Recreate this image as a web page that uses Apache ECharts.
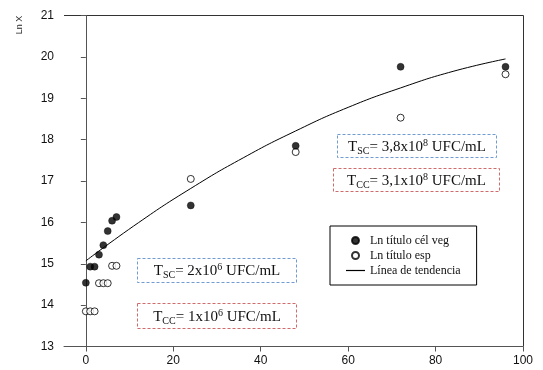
<!DOCTYPE html>
<html>
<head>
<meta charset="utf-8">
<script src="https://cdn.jsdelivr.net/npm/echarts@6/dist/echarts.min.js"></script>
<style>
  html, body { margin: 0; padding: 0; background: #fff; }
  #chart { width: 543px; height: 370px; }
</style>
</head>
<body>
<div id="chart"></div>
<script>
// Time (x) and log counts (Ln X)
const vegHours = [0, 1, 2, 3, 4, 5, 6, 7, 24, 48, 72, 96];
const vegLnX   = [14.54, 14.93, 14.93, 15.22, 15.45, 15.79, 16.04, 16.13, 16.41, 17.85, 19.76, 19.76];

const espHours = [0, 1, 2, 3, 4, 5, 6, 7, 24, 48, 72, 96];
const espLnX   = [13.85, 13.85, 13.85, 14.53, 14.53, 14.53, 14.95, 14.95, 17.05, 17.70, 18.53, 19.58];

const trendHours = [0, 12, 24, 36, 48, 60, 72, 84, 96];
const trendLnX   = [15.07, 15.99, 16.82, 17.56, 18.21, 18.78, 19.25, 19.65, 19.95];

const xTicks = [0, 20, 40, 60, 80, 100];

const names = ['Ln título cél veg', 'Ln título esp', 'Línea de tendencia'];

const zip = (xs, ys) => xs.map((x, i) => [x, ys[i]]);

const chart = echarts.init(document.getElementById('chart'), null, { renderer: 'canvas' });

const serif = 'Liberation Serif';
const sans = 'Liberation Sans';

// dashed annotation box with rich text (subscript / superscript)
function noteBox(x, y, w, h, color, sub, mant, exp) {
  return {
    type: 'group',
    left: x, top: y,
    children: [
      {
        type: 'rect',
        shape: { x: 0, y: 0, width: w, height: h },
        style: { fill: '#fff', stroke: color, lineWidth: 1, lineDash: [3, 2] }
      },
      {
        type: 'text',
        x: w / 2, y: h / 2 + 1,
        style: {
          text: '{t|T}{s|' + sub + '}{t|= ' + mant + 'x10}{p|' + exp + '}{t| UFC/mL}',
          align: 'center', verticalAlign: 'middle',
          rich: {
            t: { fontFamily: serif, fontSize: 15, fill: '#111', lineHeight: 18, verticalAlign: 'middle' },
            s: { fontFamily: serif, fontSize: 10, fill: '#111', lineHeight: 18, verticalAlign: 'bottom', padding: [8, 0, 0, 0] },
            p: { fontFamily: serif, fontSize: 10, fill: '#111', lineHeight: 18, verticalAlign: 'top', padding: [0, 0, 8, 0] }
          }
        }
      }
    ]
  };
}

const option = {
  backgroundColor: '#fff',
  animation: false,
  grid: { left: 64, right: 20, top: 15.5, bottom: 23.5, containLabel: false },
  xAxis: {
    type: 'value', min: -5, max: 100, interval: 5,
    axisLine: { show: true, onZero: false, lineStyle: { color: '#555', width: 1 } },
    axisTick: {
      show: true, length: 5, inside: false,
      customValues: xTicks, lineStyle: { color: '#555' }
    },
    axisLabel: {
      customValues: xTicks, color: '#111', fontFamily: sans, fontSize: 12, margin: 8
    },
    splitLine: { show: false }
  },
  yAxis: {
    type: 'value', min: 13, max: 21, interval: 1,
    axisLine: { show: true, lineStyle: { color: '#555', width: 1 } },
    axisTick: { show: true, length: 5, lineStyle: { color: '#555' } },
    axisLabel: { color: '#111', fontFamily: sans, fontSize: 12, margin: 10 },
    splitLine: { show: false }
  },
  legend: {
    orient: 'vertical',
    left: 330, top: 226,
    padding: [8, 16, 8, 16],
    borderColor: '#000', borderWidth: 1,
    backgroundColor: '#fff',
    itemWidth: 19, itemHeight: 7, itemGap: 2,
    textStyle: { fontFamily: serif, fontSize: 12, lineHeight: 13, color: '#111' },
    data: [
      { name: names[0], icon: 'circle' },
      { name: names[1], icon: 'circle' },
      { name: names[2], icon: 'path://M0,0 L19,0 L19,1.2 L0,1.2 Z', itemStyle: { color: '#000' } }
    ]
  },
  graphic: [
    // y axis title
    {
      type: 'text', x: 20, y: 25, rotation: Math.PI / 2,
      style: { text: 'Ln X', fontFamily: sans, fontSize: 9, fill: '#222', align: 'center', verticalAlign: 'middle' }
    },
    // frame closing the plot on top and right
    {
      type: 'polyline',
      shape: { points: [[64, 15.5], [523.5, 15.5], [523.5, 346.5]] },
      style: { stroke: '#333', lineWidth: 1, fill: null },
      silent: true
    },
    noteBox(337, 134, 159, 23, '#6f9bd1', 'SC', '3,8', '8'),
    noteBox(333, 168, 166, 23, '#d06b6b', 'CC', '3,1', '8'),
    noteBox(137, 258, 159, 24, '#6f9bd1', 'SC', '2', '6'),
    noteBox(137, 303, 159, 25, '#d06b6b', 'CC', '1', '6')
  ],
  series: [
    {
      name: names[2], type: 'line', smooth: true, symbol: 'none',
      data: zip(trendHours, trendLnX),
      lineStyle: { color: '#000', width: 1 },
      itemStyle: { color: '#000' },
      z: 1
    },
    {
      name: names[0], type: 'scatter', symbol: 'circle', symbolSize: 7,
      data: zip(vegHours, vegLnX),
      itemStyle: { color: '#000', borderColor: '#000', borderWidth: 0.5 },
      z: 3
    },
    {
      name: names[1], type: 'scatter', symbol: 'circle', symbolSize: 7,
      data: zip(espHours, espLnX),
      itemStyle: { color: '#fff', borderColor: '#000', borderWidth: 1 },
      z: 2
    }
  ]
};

chart.setOption(option);
</script>
</body>
</html>
